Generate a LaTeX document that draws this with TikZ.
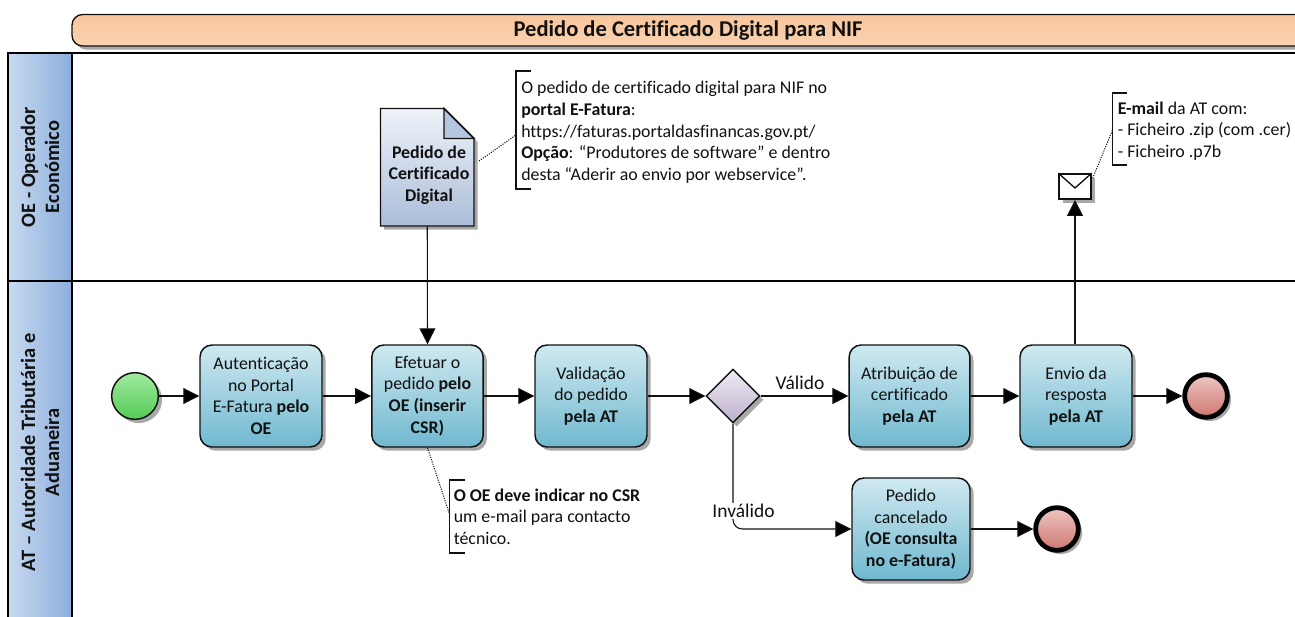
\documentclass[tikz,border=0pt]{standalone}
\usepackage{fontspec}
\setmainfont[Ligatures=NoCommon]{Carlito}
\usetikzlibrary{arrows.meta,shapes.geometric,shadows}
\definecolor{boxtop}{HTML}{CFE9F0}
\definecolor{boxbot}{HTML}{6FB8CF}
\definecolor{lanel}{HTML}{C8DAF0}
\definecolor{laner}{HTML}{8CAEDC}
\definecolor{titop}{HTML}{F8C59C}
\definecolor{tibot}{HTML}{FAD3B0}
\definecolor{doctop}{HTML}{EFF3F9}
\definecolor{docbot}{HTML}{ABBDD9}
\definecolor{foldc}{HTML}{B4C5DE}
\definecolor{sttop}{HTML}{A0EAA0}
\definecolor{stbot}{HTML}{55CB55}
\definecolor{entop}{HTML}{EEC6C2}
\definecolor{enbot}{HTML}{CE7770}
\definecolor{gwtop}{HTML}{EEEAF3}
\definecolor{gwbot}{HTML}{BEB0CD}
\definecolor{inkc}{HTML}{111111}
\definecolor{shadowc}{HTML}{A8A8A8}
\tikzset{
  x=0.75pt,y=-0.75pt,
  base/.style={font=\fontsize{13.4}{16.25}\selectfont,text=inkc},
  soft/.style={general shadow={shadow xshift=2.8pt,shadow yshift=-2.8pt,fill=shadowc}},
  taskbox/.style={base,draw=inkc,line width=1.1pt,rounded corners=9pt,align=center,
    top color=boxtop,bottom color=boxbot,soft,inner sep=0pt,minimum height=76.5pt},
  flow/.style={draw=inkc,line width=0.8pt,-{Triangle[length=12pt,width=12pt,fill=black]}},
  startev/.style={circle,draw=inkc,line width=1.1pt,top color=sttop,bottom color=stbot,soft,
    minimum size=35pt,inner sep=0pt},
  endev/.style={circle,draw=black,line width=3.6pt,top color=entop,bottom color=enbot,soft,
    minimum size=32pt,inner sep=0pt},
  gateway/.style={diamond,aspect=1,draw=inkc,line width=1.1pt,top color=gwtop,bottom color=gwbot,soft,
    minimum size=40.5pt,inner sep=0pt},
  note/.style={base,align=left,anchor=north west,inner sep=0pt},
  assoc/.style={draw=inkc,line width=0.8pt,densely dotted},
  bracket/.style={draw=inkc,line width=0.8pt},
  lanetext/.style={base,font=\fontsize{15.3}{18}\selectfont\bfseries,align=center,rotate=90},
  lane/.style={draw=black,line width=1.2pt,left color=lanel,right color=laner},
  rule/.style={draw=black,line width=1.2pt},
  flowlabel/.style={base,font=\fontsize{14.6}{16}\selectfont,inner sep=1pt},
}
\begin{document}
\begin{tikzpicture}
\useasboundingbox (0,0) rectangle (1295,617);
\clip (0,0) rectangle (1295,617);
% title
\path[draw=inkc,line width=1pt,rounded corners=8pt,top color=titop,bottom color=tibot,soft]
  (72,14.5) rectangle (1312,46);
\node[base,font=\fontsize{16.9}{18}\selectfont\bfseries] (title) at (688,31) {Pedido de Certificado Digital para NIF};
% lanes
\path[lane] (8,53) rectangle (72,281);
\path[lane] (8,281) rectangle (72,630);
\draw[rule] (8,53) -- (1295,53);
\draw[rule] (8,281) -- (1295,281);
\node[lanetext] (laneoe) at (40,167) {OE - Operador\\Económico};
\node[lanetext] (laneat) at (40,452.5) {AT – Autoridade Tributária e\\Aduaneira};
% document
\path[draw=inkc,line width=1.1pt,soft,top color=doctop,bottom color=docbot]
  (380.5,108.5) -- (444,108.5) -- (474,138.5) -- (474,226) -- (380.5,226) -- cycle;
\path[draw=inkc,line width=1.1pt,fill=foldc] (444,108.5) -- (474,138.5) -- (444,138.5) -- cycle;
\node[base,minimum width=70.5pt,minimum height=88pt,inner sep=0pt] (doc) at (427.25,167.25) {};
\node[base,font=\fontsize{13.4}{16.25}\selectfont\bfseries,align=center] (doctext) at (429,175) {Pedido de\\Certificado\\Digital};
% events and tasks
\node[startev] (start) at (135,396) {};
\node[taskbox,minimum width=91.5pt] (auth) at (261,396) {Autenticação\\no Portal\\E-Fatura \textbf{pelo}\\\textbf{OE}};
\node[taskbox,minimum width=83.5pt] (pedido) at (427.5,396) {Efetuar o\\pedido \textbf{pelo}\\\textbf{OE (inserir}\\\textbf{CSR)}};
\node[taskbox,minimum width=84pt] (valid) at (591,396) {Validação\\do pedido\\\textbf{pela AT}};
\node[gateway] (gw) at (733,396) {};
\node[taskbox,minimum width=90.5pt] (atrib) at (909.5,396) {Atribuição de\\certificado\\\textbf{pela AT}};
\node[taskbox,minimum width=84pt] (envio) at (1076,396) {Envio da\\resposta\\\textbf{pela AT}};
\node[endev] (end1) at (1206,396) {};
\node[taskbox,minimum width=88.5pt] (cancel) at (911,529) {Pedido\\cancelado\\\textbf{(OE consulta}\\\textbf{no e-Fatura)}};
\node[endev] (end2) at (1057,529) {};
% envelope
\node[draw=inkc,line width=1.1pt,fill=white,soft,minimum width=24pt,minimum height=19pt,inner sep=0pt] (mail) at (1075,186.5) {};
\draw[inkc,line width=1pt] (mail.north west) -- (1075,188) -- (mail.north east);
% flows
\draw[flow] (start) -- (auth);
\draw[flow] (auth) -- (pedido);
\draw[flow] (pedido) -- (valid);
\draw[flow] (valid) -- (gw);
\draw[flow] (gw) -- (atrib);
\draw[flow] (atrib) -- (envio);
\draw[flow] (envio) -- (end1);
\draw[flow] (cancel) -- (end2);
\draw[flow] (doc.south) -- (pedido.north);
\draw[flow] (envio.north -| mail.south) -- (mail.south);
\draw[flow,rounded corners=7pt] (gw.south) |- (cancel.west);
\node[flowlabel] (lvalid) at (800,383) {Válido};
\node[flowlabel,fill=white] (linval) at (743.5,511) {Inválido};
% notes
\draw[bracket] (531,71) -- (516,71) -- (516,189) -- (531,189);
\node[note] (note1) at (521,81) {O pedido de certificado digital para NIF no\\\textbf{portal E-Fatura}:\\https://faturas.portaldasfinancas.gov.pt/\\\textbf{Opção}: “Produtores de software” e dentro\\desta “Aderir ao envio por webservice”.};
\coordinate (n1a) at (516,135);
\draw[assoc] (479,161) -- (n1a);
\draw[bracket] (1127,93) -- (1112.5,93) -- (1112.5,165) -- (1127,165);
\node[note] (note2) at (1117.5,101.5) {\textbf{E-mail} da AT com:\\- Ficheiro .zip (com .cer)\\- Ficheiro .p7b};
\coordinate (n2a) at (1112.5,130);
\draw[assoc] (mail.north east) ++(1,5) -- (n2a);
\draw[bracket] (465,480) -- (449.5,480) -- (449.5,553) -- (465,553);
\node[note] (note3) at (453.5,488.5) {\textbf{O OE deve indicar no CSR}\\um e-mail para contacto\\técnico.};
\coordinate (n3a) at (449.5,514);
\draw[assoc] (pedido.south) -- (n3a);
\end{tikzpicture}
\end{document}
